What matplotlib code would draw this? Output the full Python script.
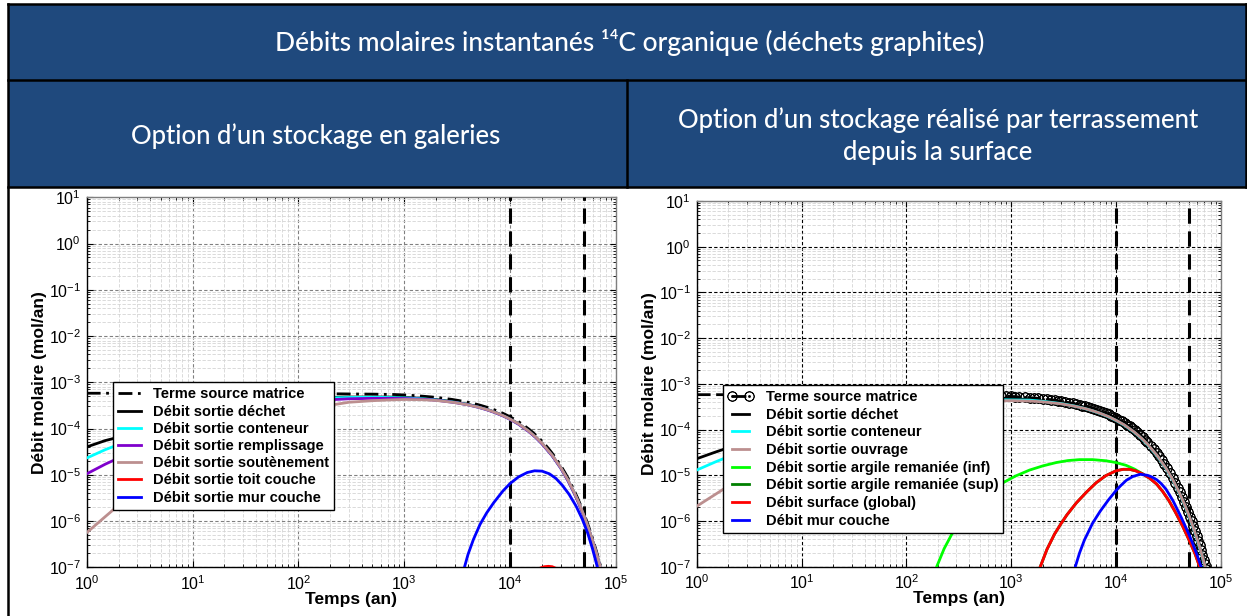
import matplotlib
matplotlib.use("Agg")
import matplotlib.pyplot as plt
from matplotlib.patches import Rectangle
from matplotlib.lines import Line2D
from matplotlib.ticker import NullFormatter, FixedLocator

# ---------------- data ----------------
title = "Débits molaires instantanés ¹⁴C organique (déchets graphites)"
sub_left = "Option d\u2019un stockage en galeries"
sub_right = "Option d\u2019un stockage réalisé par terrassement\ndepuis la surface"

t_main = [1, 1.5, 2, 3, 5, 7, 10, 15, 20, 30, 50, 70, 100, 200, 300, 500, 700, 1000,
          1500, 2000, 3000, 4000, 5000, 6000, 7000, 8500, 10000, 12000, 15000, 17500,
          20000, 25000, 30000, 35000, 40000, 45000, 50000, 55000, 60000, 65000, 70000, 75000]

decay_black = [4.5e-4, 4.24e-4, 3.75e-4, 3.33e-4, 2.95e-4, 2.61e-4, 2.31e-4, 1.93e-4, 1.61e-4,
               1.27e-4, 8.8e-5, 6.5e-5, 4.8e-5, 2.6e-5, 1.43e-5, 7.8e-6, 4.2e-6, 2.3e-6,
               1.27e-6, 6.9e-7, 3.8e-7, 2.1e-7, 1.13e-7, 6.2e-8]
decay_cyan = [4.4e-4, 4.15e-4, 3.7e-4, 3.28e-4, 2.9e-4, 2.57e-4, 2.28e-4, 1.9e-4, 1.59e-4,
              1.25e-4, 8.7e-5, 6.4e-5, 4.7e-5, 2.58e-5, 1.41e-5, 7.7e-6, 4.2e-6, 2.3e-6,
              1.25e-6, 6.8e-7, 3.7e-7, 2.05e-7, 1.12e-7, 6.1e-8]
decay_purple = [4.3e-4, 4.1e-4, 3.65e-4, 3.25e-4, 2.88e-4, 2.55e-4, 2.26e-4, 1.89e-4, 1.58e-4,
                1.24e-4, 8.6e-5, 6.35e-5, 4.65e-5, 2.56e-5, 1.4e-5, 7.6e-6, 4.15e-6, 2.28e-6,
                1.24e-6, 6.75e-7, 3.7e-7, 2.03e-7, 1.11e-7, 6.0e-8]
decay_brown = [4.2e-4, 4.05e-4, 3.65e-4, 3.25e-4, 2.9e-4, 2.58e-4, 2.29e-4, 1.92e-4, 1.6e-4,
               1.27e-4, 8.8e-5, 6.5e-5, 4.8e-5, 2.63e-5, 1.44e-5, 7.9e-6, 4.3e-6, 2.36e-6,
               1.29e-6, 7.0e-7, 3.85e-7, 2.1e-7, 1.15e-7, 6.3e-8]

# left panel (galeries), early part t = 1 .. 1000
g_dechet = [4.0e-5, 5.5e-5, 6.5e-5, 9e-5, 1.3e-4, 1.6e-4, 2.0e-4, 2.5e-4, 2.9e-4, 3.4e-4,
            3.9e-4, 4.2e-4, 4.4e-4, 4.7e-4, 4.8e-4, 4.8e-4, 4.8e-4, 4.7e-4] + decay_black
g_conteneur = [2.3e-5, 3.5e-5, 4.5e-5, 6.5e-5, 1.0e-4, 1.3e-4, 1.7e-4, 2.2e-4, 2.6e-4, 3.1e-4,
               3.7e-4, 4.0e-4, 4.3e-4, 4.6e-4, 4.7e-4, 4.75e-4, 4.7e-4, 4.6e-4] + decay_cyan
g_remplissage = [1.05e-5, 1.7e-5, 2.3e-5, 3.5e-5, 5.8e-5, 8e-5, 1.1e-4, 1.5e-4, 1.8e-4, 2.3e-4,
                 2.9e-4, 3.3e-4, 3.7e-4, 4.2e-4, 4.4e-4, 4.5e-4, 4.5e-4, 4.45e-4] + decay_purple
g_soutenement = [5.6e-7, 1.25e-6, 2.2e-6, 5.0e-6, 1.25e-5, 2.1e-5, 3.3e-5, 5.0e-5, 6.6e-5, 9.0e-5,
                 1.4e-4, 1.75e-4, 2.2e-4, 3.2e-4, 3.7e-4, 4.0e-4, 4.15e-4, 4.25e-4] + decay_brown
g_toit_t = [1.9e4, 2.1e4, 2.3e4, 2.5e4, 2.7e4]
g_toit = [9.5e-8, 1.03e-7, 1.05e-7, 1.03e-7, 9.5e-8]
g_mur_t = [3700, 4000, 4500, 5200, 6000, 7000, 8500, 10000, 12000, 14500, 17000, 20000, 23500,
           27000, 31000, 36000, 42000, 48000, 54000, 60000, 66000, 70000]
g_mur = [1e-7, 1.9e-7, 4.0e-7, 8.5e-7, 1.5e-6, 2.5e-6, 4.4e-6, 6.5e-6, 9.0e-6, 1.12e-5, 1.22e-5,
         1.2e-5, 1.05e-5, 8.4e-6, 6.0e-6, 3.8e-6, 2.1e-6, 1.1e-6, 5.5e-7, 2.5e-7, 1.1e-7, 6e-8]

# right panel (terrassement), early part t = 1 .. 1000
s_dechet = [2.3e-5, 3.2e-5, 4.0e-5, 5.4e-5, 8e-5, 1.05e-4, 1.4e-4, 1.85e-4, 2.2e-4, 2.8e-4,
            3.5e-4, 3.9e-4, 4.3e-4, 4.8e-4, 4.9e-4, 4.95e-4, 4.9e-4, 4.8e-4] + decay_black
s_conteneur = [1.3e-5, 1.95e-5, 2.55e-5, 3.6e-5, 5.6e-5, 7.3e-5, 9.7e-5, 1.3e-4, 1.6e-4, 2.1e-4,
               2.8e-4, 3.2e-4, 3.6e-4, 4.2e-4, 4.4e-4, 4.5e-4, 4.5e-4, 4.45e-4] + decay_cyan
s_ouvrage = [2.1e-6, 3.8e-6, 5.8e-6, 1.05e-5, 2.1e-5, 3.0e-5, 4.2e-5, 6.0e-5, 7.6e-5, 1.05e-4,
             1.5e-4, 1.9e-4, 2.4e-4, 3.3e-4, 3.7e-4, 4.1e-4, 4.25e-4, 4.3e-4] + decay_brown
s_inf_t = [195, 230, 270, 330, 400, 500, 650, 850, 1100, 1500, 2000, 2700, 3500, 4500, 6000,
           8000, 10000, 12500, 15000, 18000]
s_inf = [1e-7, 2.5e-7, 5.0e-7, 1.05e-6, 1.8e-6, 2.9e-6, 4.6e-6, 7e-6, 9.6e-6, 1.3e-5, 1.6e-5,
         1.9e-5, 2.1e-5, 2.2e-5, 2.2e-5, 2.08e-5, 1.9e-5, 1.65e-5, 1.37e-5, 1.07e-5]
s_surf_t = [1900, 2200, 2600, 3000, 3400, 4200, 5300, 6500, 8000, 10000, 11700, 13500, 15500,
            18000, 21000, 24500, 28000, 32000, 37000, 43000, 50000, 57000, 64000]
s_surf = [1e-7, 2.4e-7, 5.2e-7, 8.8e-7, 1.35e-6, 2.5e-6, 4.4e-6, 6.9e-6, 9.8e-6, 1.25e-5,
          1.35e-5, 1.35e-5, 1.25e-5, 1.07e-5, 8.6e-6, 6.4e-6, 4.4e-6, 2.8e-6, 1.55e-6, 8.0e-7,
          3.8e-7, 1.9e-7, 9e-8]
s_mur_t = [4100, 4500, 5000, 6000, 7100, 8500, 10000, 11000, 12600, 14500, 17000, 20000,
           22000, 24500, 27000, 30000, 35000, 42000, 50000, 55000, 60000, 66000]
s_mur = [1e-7, 2.0e-7, 3.8e-7, 9e-7, 1.65e-6, 2.9e-6, 4.6e-6, 5.8e-6, 7.8e-6, 9.4e-6, 1.05e-5,
         1.0e-5, 9.2e-6, 8e-6, 6.6e-6, 5e-6, 2.8e-6, 1.2e-6, 5.0e-7, 2.9e-7, 1.7e-7, 9e-8]

# source term (terme source matrice)
src_t = [1, 10, 100, 300, 500, 800, 900, 1000, 1100, 1200, 1350, 1500, 1650, 1800, 2000, 2200,
         2400, 2600, 2800, 3000, 3300, 3600, 3900, 4200, 4500, 4800, 5100, 5400, 5800, 6200,
         6600, 7000, 7500, 8000, 8500, 9000, 9500, 10000, 10700, 11400, 12100, 12800, 13500,
         14300, 15100, 16000, 17000, 18000, 19000, 20000, 21500, 23000, 24500, 26000, 27500,
         29000, 31000, 33000, 35000, 37000, 39000, 41000, 43000, 45000, 47000, 49000, 51000,
         53000, 55000, 57000, 59000, 61000, 63000, 65000, 67000, 69000, 71000, 73000, 75000]
src_v = [5.8e-4, 5.8e-4, 5.75e-4, 5.6e-4, 5.55e-4, 5.45e-4, 5.38e-4, 5.32e-4, 5.25e-4, 5.19e-4,
         5.10e-4, 5.00e-4, 4.91e-4, 4.83e-4, 4.71e-4, 4.60e-4, 4.49e-4, 4.38e-4, 4.28e-4,
         4.17e-4, 4.02e-4, 3.88e-4, 3.74e-4, 3.61e-4, 3.48e-4, 3.36e-4, 3.24e-4, 3.12e-4,
         2.97e-4, 2.83e-4, 2.70e-4, 2.57e-4, 2.42e-4, 2.28e-4, 2.15e-4, 2.02e-4, 1.90e-4,
         1.79e-4, 1.64e-4, 1.51e-4, 1.39e-4, 1.27e-4, 1.17e-4, 1.06e-4, 9.65e-5, 8.66e-5,
         7.67e-5, 6.80e-5, 6.02e-5, 5.33e-5, 4.45e-5, 3.71e-5, 3.10e-5, 2.58e-5, 2.15e-5,
         1.80e-5, 1.41e-5, 1.11e-5, 8.69e-6, 6.82e-6, 5.35e-6, 4.20e-6, 3.30e-6, 2.59e-6,
         2.03e-6, 1.60e-6, 1.25e-6, 9.85e-7, 7.73e-7, 6.07e-7, 4.76e-7, 3.74e-7, 2.94e-7,
         2.30e-7, 1.81e-7, 1.42e-7, 1.12e-7, 8.76e-8, 6.87e-8]

milestones = [1e4, 5e4]
x_decades = [1, 10, 100, 1000, 10000, 100000]
y_decades = [1e-7, 1e-6, 1e-5, 1e-4, 1e-3, 1e-2, 1e-1, 1, 10]

labels_left = ["Terme source matrice", "Débit sortie déchet", "Débit sortie conteneur",
               "Débit sortie remplissage", "Débit sortie soutènement", "Débit sortie toit couche",
               "Débit sortie mur couche"]
labels_right = ["Terme source matrice", "Débit sortie déchet", "Débit sortie conteneur",
                "Débit sortie ouvrage", "Débit sortie argile remaniée (inf)",
                "Débit sortie argile remaniée (sup)", "Débit surface (global)", "Débit mur couche"]

# ---------------- style ----------------
W, H = 1247, 616
plt.rcParams['mathtext.fontset'] = 'custom'
plt.rcParams['mathtext.rm'] = 'Liberation Sans'
plt.rcParams['mathtext.it'] = 'Liberation Sans'
plt.rcParams['font.family'] = ['Liberation Sans', 'DejaVu Sans']

C_BLACK = '#000000'
C_CYAN = '#00FFFF'
C_PURPLE = '#7F00CC'
C_BROWN = '#BC8F8F'
C_RED = '#FF0000'
C_BLUE = '#0000FF'
C_GREEN = '#00FF00'
C_DGREEN = '#008000'
HEADER = '#1F497D'

fig = plt.figure(figsize=(W / 100, H / 100), dpi=100)
fig.patch.set_facecolor('white')


def fx(x):
    return x / W


def fy(y):
    return 1 - y / H


# header
fig.patches.append(Rectangle((fx(8), fy(187)), fx(1246) - fx(8), fy(4) - fy(187),
                             transform=fig.transFigure, facecolor=HEADER, edgecolor='none', zorder=0))
for (x0, y0, x1, y1) in [(8, 4, 1246, 4), (8, 79.5, 1246, 79.5), (8, 187, 1246, 187),
                         (8, 4, 8, 616), (1246, 4, 1246, 187), (627, 79.5, 627, 187)]:
    fig.add_artist(Line2D([fx(x0), fx(x1)], [fy(y0), fy(y1)], transform=fig.transFigure,
                          color='black', lw=1.8, zorder=1))

hfont = ['Lato', 'DejaVu Sans']
fig.text(fx(630), fy(43), title, color='white', fontsize=19, family=hfont, ha='center',
         va='center', fontweight='medium')
fig.text(fx(316), fy(136), sub_left, color='white', fontsize=18.5, family=hfont, ha='center',
         va='center', fontweight='medium')
fig.text(fx(938), fy(136), sub_right, color='white', fontsize=18.5, family=hfont, ha='center',
         va='center', linespacing=1.35, fontweight='medium')


def setup_axes(ax, major_color, major_ls):
    ax.set_xscale('log')
    ax.set_yscale('log')
    ax.set_xlim(1, 1e5)
    ax.set_ylim(1e-7, 10)
    ax.xaxis.set_major_locator(FixedLocator(x_decades))
    ax.yaxis.set_major_locator(FixedLocator(y_decades))
    ax.xaxis.set_minor_locator(FixedLocator([d * k for d in x_decades[:-1] for k in range(2, 10)]))
    ax.yaxis.set_minor_locator(FixedLocator([d * k for d in y_decades[:-1] for k in range(2, 10)]))
    ax.xaxis.set_minor_formatter(NullFormatter())
    ax.yaxis.set_minor_formatter(NullFormatter())
    ax.grid(True, which='minor', color='#d4d4d4', linestyle=(0, (4, 2)), lw=0.6)
    ax.grid(True, which='major', color=major_color, linestyle=major_ls, lw=0.8)
    ax.set_axisbelow(True)
    ax.tick_params(which='both', direction='in', top=True, right=True, labelsize=11.5)
    ax.tick_params(which='major', length=4)
    ax.tick_params(axis='x', which='major', pad=5)
    ax.tick_params(axis='y', which='major', pad=4)
    ax.tick_params(which='minor', length=2)
    for s in ['left', 'bottom']:
        ax.spines[s].set_color('black')
    for s in ['top', 'right']:
        ax.spines[s].set_color('#7f7f7f')
    for s in ax.spines.values():
        s.set_linewidth(1.0)
    ax.set_xlabel('Temps (an)', fontsize=12.5, fontweight='bold', labelpad=-1)
    ax.set_ylabel('Débit molaire (mol/an)', fontsize=12.5, fontweight='bold', labelpad=1)
    for v in milestones:
        ax.axvline(v, color='black', lw=2.2, linestyle=(0, (5, 2.5)), zorder=3)


LW = 2.0
# ---------------- left panel ----------------
axL = fig.add_axes([fx(86.7), fy(567.3), fx(616) - fx(86.7), fy(197.3) - fy(567.3)])
setup_axes(axL, '#808080', (0, (3, 2)))
hL = []
hL += axL.plot(src_t, src_v, color=C_BLACK, lw=2.0, linestyle=(0, (5, 2, 1, 2)), zorder=4)
hL += axL.plot(t_main, g_dechet, color=C_BLACK, lw=LW, zorder=4)
hL += axL.plot(t_main, g_conteneur, color=C_CYAN, lw=LW, zorder=4)
hL += axL.plot(t_main, g_remplissage, color=C_PURPLE, lw=LW, zorder=4)
hL += axL.plot(t_main, g_soutenement, color=C_BROWN, lw=LW, zorder=4)
hL += axL.plot(g_toit_t, g_toit, color=C_RED, lw=LW, zorder=4)
hL += axL.plot(g_mur_t, g_mur, color=C_BLUE, lw=LW, zorder=4)
legL = axL.legend(hL, labels_left, loc='upper left', bbox_to_anchor=(fx(112.5), fy(382.3)),
                  bbox_transform=fig.transFigure, borderaxespad=0, fancybox=False,
                  edgecolor='black', framealpha=1, prop={'weight': 'bold', 'size': 10.5},
                  handlelength=1.6, handletextpad=0.8, labelspacing=0.22, borderpad=0.35)
legL.get_frame().set_linewidth(1.0)
legL.set_zorder(10)

# ---------------- right panel ----------------
axR = fig.add_axes([fx(696.7), fy(566.7), fx(1220.7) - fx(696.7), fy(201) - fy(566.7)])
setup_axes(axR, '#000000', (0, (3, 2)))
hR = []
hR += axR.plot(src_t, src_v, color=C_BLACK, lw=2.0, linestyle=(0, (5, 2)), marker='$\\odot$',
               markersize=7, markeredgewidth=0.5, markevery=slice(5, None), zorder=4)
hR += axR.plot(t_main, s_dechet, color=C_BLACK, lw=LW, zorder=4)
hR += axR.plot(t_main, s_conteneur, color=C_CYAN, lw=LW, zorder=4)
hR += axR.plot(t_main, s_ouvrage, color=C_BROWN, lw=LW, zorder=4)
hR += axR.plot(s_inf_t, s_inf, color=C_GREEN, lw=LW, zorder=4)
hR += axR.plot(s_surf_t, s_surf, color=C_DGREEN, lw=LW, zorder=4)
hR += axR.plot(s_surf_t, s_surf, color=C_RED, lw=LW, zorder=4)
hR += axR.plot(s_mur_t, s_mur, color=C_BLUE, lw=LW, zorder=4)
legR = axR.legend(hR, labels_right, loc='upper left', bbox_to_anchor=(fx(722.5), fy(385)),
                  bbox_transform=fig.transFigure, borderaxespad=0, fancybox=False,
                  edgecolor='black', framealpha=1, prop={'weight': 'bold', 'size': 10.5},
                  handlelength=1.8, handletextpad=0.8, labelspacing=0.25, borderpad=0.35,
                  numpoints=2)
legR.get_frame().set_linewidth(1.0)
legR.set_zorder(10)

fig.savefig('out.png', dpi=100, facecolor='white')
